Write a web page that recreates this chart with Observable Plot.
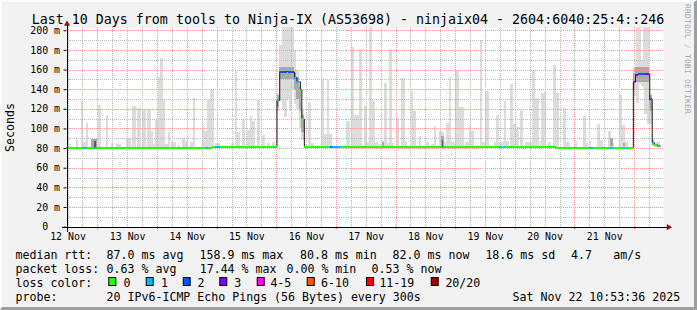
<!DOCTYPE html>
<html><head><meta charset="utf-8">
<script src="https://cdn.jsdelivr.net/npm/d3@7"></script>
<script src="https://cdn.jsdelivr.net/npm/@observablehq/plot@0.6"></script>
<style>
html,body{margin:0;padding:0;background:#fff;}
#chart{position:relative;width:697px;height:310px;background:#f2f2f2;box-sizing:border-box;overflow:hidden;
  border-top:2px solid #fcfcfc;border-left:2px solid #fcfcfc;border-right:3px solid #9e9e9e;border-bottom:3px solid #9e9e9e;}
#chart svg{position:absolute;left:-2px;top:-2px;}
</style></head><body><div id="chart"></div>
<script>
// ---------------- data (hours since 12 Nov 00:00) ----------------
const xStart = 11.6, xEnd = 251.6;
const dayLabels = ["12 Nov","13 Nov","14 Nov","15 Nov","16 Nov","17 Nov","18 Nov","19 Nov","20 Nov","21 Nov"];
const dayLabelHours = [12,36,60,84,108,132,156,180,204,228];
const dayBoundaryHours = [24,48,72,96,120,144,168,192,216,240];
const yTickValues = [0,20,40,60,80,100,120,140,160,180,200];
const yTickLabels = ["0\u00a0\u00a0","20 m","40 m","60 m","80 m","100 m","120 m","140 m","160 m","180 m","200 m"];
const yMinorValues = [10,30,50,70,90,110,130,150,170,190];

// light smoke (spread of the 20 pings): start, end, low, high (ms)
const smokeStart = [11.6,12.4,15.4,17.4,18.3,19.4,21.4,24.4,27.4,29.4,31.5,35.5,38.1,40.1,42.1,44.1,45.5,46.4,47.4,48.4,49.4,50.4,51.4,52.4,53.5,56.3,58.1,59.4,61.4,62.4,66.1,67.1,68.1,69.5,
  71.5,77.7,79.5,80.4,82.1,84.1,85.5,86.4,88.1,90.1,92.1,94.1,
  96.1,97.2,98.2,99.2,100.2,101.2,102.2,103.2,104.1,105.1,106.1,
  107.3,108.6,110,114.1,115.1,116.3,117.3,124.1,126.1,127.3,129.5,131.5,132.4,133.5,134.4,135.8,136.8,138.4,139.4,140.4,141.4,142.4,144.1,146.4,147.7,150.1,151.1,153.5,156.4,158.1,159.4,161.5,162.3,163.5,164.4,165.4,166.5,167.8,168.5,169.7,172.1,173.4,174.4,178.1,178.8,180.1,183.5,184.4,185.5,187.5,188.4,
  190.1,191.3,192.3,194.1,196,199.1,200.1,202.1,202.7,203.7,205.5,207.5,208.5,211.5,212.5,216.1,219.5,220.5,222.1,225.2,226.1,229.7,230.8,234.1,235.1,236.4,
  239.5,240.8,242.1,242.8,243.5,244.1,245.1,246.1,247.1,248.1];
const smokeEnd = [12.4,13.6,16.4,18.3,19.4,20.4,23.7,25.4,28.4,30.4,33.5,37.5,39.5,41.5,43.5,45.5,46.4,47.4,48.4,49.4,50.4,51.4,52.4,53.4,55.5,57.3,59.4,60.4,62.4,63.4,67.1,68.1,69.5,71.0,
  73.5,78.8,80.4,81.5,83.5,85.5,86.4,87.5,89.5,91.5,93.5,95.5,
  97.2,98.2,99.2,100.2,101.2,102.2,103.2,104.1,105.1,106.1,107.1,
  108.5,109.8,111,115.1,116.3,117.3,118.5,125.5,127.3,129.5,130.5,132.4,133.5,134.4,135.8,136.8,138.1,139.4,140.4,141.4,142.4,143.5,145.5,147.7,148.8,151.1,152.4,154.4,157.5,159.4,160.4,162.3,163.5,164.4,165.4,166.5,167.8,168.5,169.7,171.5,173.4,174.4,175.5,178.8,180.1,181.5,184.4,185.5,187.5,188.4,189.5,
  191.3,192.3,193.8,195.5,199.1,200.1,201.7,202.7,203.7,204.5,206.5,208.5,209.7,212.5,214.1,217.1,220.5,221.5,222.8,226.1,227.4,230.8,232.1,235.1,236.4,237.5,
  240.8,242.1,242.8,243.5,244.1,245.1,246.1,247.1,248.1,250.4];
const smokeLo = [80.5,80.5,80.5,80.5,80.5,80.5,80.5,80.5,80.5,80.5,80.5,80.5,80.5,80.5,80.5,80.5,80.5,80.5,80.5,80.5,80.5,80.5,80.5,80.5,80.5,80.5,80.5,80.5,80.5,80.5,80.5,80.5,80.5,80.5,
  81.5,81.5,81.5,81.5,81.5,81.5,81.5,81.5,81.5,81.5,81.5,81.5,
  118,128,120,112,130,118,140,125,120,100,88,
  81.5,81.5,81.5,81.5,81.5,81.5,81.5,81.5,81.5,81.5,81.5,81.5,81.5,81.5,81.5,81.5,81.5,81.5,81.5,81.5,81.5,81.5,81.5,81.5,81.5,81.5,81.5,81.5,81.5,81.5,81.5,81.5,81.5,81.5,81.5,81.5,81.5,81.5,81.5,81.5,81.5,81.5,81.5,81.5,81.5,81.5,81.5,81.5,81.5,81.5,81.5,
  81.5,81.5,81.5,81.5,81.5,81.5,81.5,81.5,81.5,81.5,81.5,80.5,80.5,80.5,80.5,80.5,80.5,80.5,80.5,80.5,80.5,80.5,80.5,80.5,80.5,80.5,
  133,126,145,143,140,115,105,105,82,81];
const smokeHi = [108,84,89,128,86,106,89,124,114,85,84,90,123,121,120,120,97,84,109,152,172,129,84,96,86,83,90,87,86,131,103,97,129,140,
  85,85,158,96,110,98,113,108,129,93,85,86,
  136,185,205,205,205,205,205,180,160,145,120,
  84,127,85,150,94,149,94,108,183,114,181,123,86,205,128,86,84,87,146,85,181,85,111,151,87,138,118,92,86,84,102,97,96,86,106,152,86,160,158,122,86,103,97,190,86,138,86,114,86,128,87,
  145,105,101,119,86,160,131,87,136,137,86,165,136,121,86,87,113,85,87,105,88,97,86,134,104,86,
  162,205,205,170,205,205,205,135,90,86];

// denser smoke close to the median: start, end, low, high, shade (1 = mid, 2 = dark)
const coreStart = [21.5,22.5,96.1,97.2,103.2,104.1,105.1,106.1,138.4,162.3,162.6,230.3,235.5,239.5,240.5,246.1,247.1];
const coreEnd   = [23.7,23.5,97.2,103.2,104.1,105.1,106.1,107.1,139.4,163.5,163.3,231.5,236.3,240.5,246.1,247.1,248.1];
const coreLo    = [81,81,122,150,140,130,118,96,81,81,81,82,82,140,147,118,83];
const coreHi    = [89,87,134,163,156,152,142,114,86,92,88,90,85,156,163,134,88];
const coreShade = [1,2,1,1,1,1,1,1,1,1,2,1,1,1,1,1,1];

// median rtt segments: start, end, value (ms), packet loss class
const medStart = [11.6,18.1,19.5,22.1,23.5,67.6,68.4,70.1,71.5,73.5,96.1,97.2,100.1,100.8,103.2,104.1,105.5,106.1,107.1,117.7,118.5,122.1,162.5,163.5,185.5,186.4,187.5,188.2,208.1,222.4,223.5,230.5,231.5,235.5,236.3,239.5,240.4,241.5,244.5,246.1,247.1,247.9,249.2];
const medEnd   = [18.1,19.5,22.1,23.5,67.6,68.4,70.1,71.5,73.5,96.1,97.2,100.1,100.8,103.2,104.1,105.5,106.1,107.1,117.7,118.5,122.1,162.5,163.5,185.5,186.4,187.5,188.2,208.1,222.4,223.5,230.5,231.5,235.5,236.3,239.5,240.4,241.5,244.5,246.1,247.1,247.9,249.2,250.4];
const medValue = [81,81,81,81,81,81,81,82,82,82,129,158,158.5,158,152,148,140,110,82,82,82,82,82,82,82,82,82,82,81,81,81,81,81,81,81,148,155,155.5,156,130,86,84,82.5];
const medLoss  = [0,1,0,1,0,1,0,0,1,0,1,2,3,2,1,1,0,0,0,2,1,0,1,0,1,0,1,0,0,1,0,1,0,1,0,3,3,2,3,2,1,0,1];

// legend
const lossLabels = ["0","1","2","3","4-5","6-10","11-19","20/20"];
const lossColors = ["#26ff00","#00b8ff","#0059ff","#7e00ff","#ff00ff","#ff5500","#ff0000","#a10000"];
const titleText = "Last 10 Days from tools to Ninja-IX (AS53698) - ninjaix04 - 2604:6040:25:4::246";
const rttStats = ["median rtt:","87.0 ms avg","158.9 ms max","80.8 ms min","82.0 ms now","18.6 ms sd","4.7","am/s"];
const lossStats = ["packet loss:","0.63 % avg","17.44 % max","0.00 % min","0.53 % now"];
const probeText = ["probe:","20 IPv6-ICMP Echo Pings (56 Bytes) every 300s","Sat Nov 22 10:53:36 2025"];

// ---------------- chart ----------------
const FONT = "'DejaVu Sans Mono', monospace";
const quarterDay = d3.range(12, xEnd, 6).filter(h => h % 24 !== 0 && h > xStart);
const yLabelOf = new Map(yTickValues.map((v, i) => [v, yTickLabels[i]]));
const xLabelOf = new Map(dayLabelHours.map((h, i) => [h, dayLabels[i]]));
const medPts = [];
medStart.forEach((s, i) => { medPts.push({t: s, v: medValue[i]}, {t: medEnd[i], v: medValue[i]}); });
const shadeColor = ["#dcdcdc", "#a8a8a8", "#5a5a5a"];

const plot = Plot.plot({
  width: 697, height: 245,
  marginLeft: 67, marginRight: 29.3, marginTop: 27.5, marginBottom: 16.7,
  x: {domain: [xStart, xEnd], axis: null},
  y: {domain: [0, 203], axis: null},
  color: {type: "identity"},
  style: {background: "transparent", fontFamily: FONT, fontSize: "10px", color: "#000", overflow: "visible"},
  marks: [
    Plot.frame({fill: "#ffffff", stroke: "none"}),
    Plot.rect(smokeStart, {x1: smokeStart, x2: smokeEnd, y1: smokeLo, y2: smokeHi, fill: shadeColor[0], clip: true, shapeRendering: "crispEdges"}),
    Plot.rect(coreStart, {x1: coreStart, x2: coreEnd, y1: coreLo, y2: coreHi, fill: coreShade.map(s => shadeColor[s]), clip: true, shapeRendering: "crispEdges"}),
    Plot.ruleY(yMinorValues, {stroke: "#b8b8b8", strokeDasharray: "1,1", shapeRendering: "crispEdges"}),
    Plot.ruleX(quarterDay, {y1: 0, y2: 203, stroke: "#b8b8b8", strokeDasharray: "1,1", shapeRendering: "crispEdges"}),
    Plot.ruleY(yTickValues.filter(v => v > 0), {stroke: "#f29a9a", strokeDasharray: "1,1", shapeRendering: "crispEdges"}),
    Plot.ruleX(dayBoundaryHours, {y1: 0, y2: 203, stroke: "#f29a9a", strokeDasharray: "1,1", shapeRendering: "crispEdges"}),
    Plot.line(medPts, {x: "t", y: "v", stroke: "#1c1010", strokeWidth: 1}),
    Plot.ruleY(medStart, {x1: medStart, x2: medEnd, y: medValue, stroke: medLoss.map(l => lossColors[l]), strokeWidth: 2, shapeRendering: "crispEdges"}),
    // axes
    Plot.ruleX(quarterDay, {y1: 0, y2: -1.5, stroke: "#aaaaaa"}),
    Plot.ruleX(dayBoundaryHours, {y1: 0, y2: -2.5, stroke: "#e05050"}),
    Plot.ruleY([0], {x1: xStart - 2, x2: xEnd + 1.6, stroke: "#000", shapeRendering: "crispEdges"}),
    Plot.ruleX([xStart], {y1: -5, y2: 207, stroke: "#000", shapeRendering: "crispEdges"}),
    Plot.dot([xStart], {x: d => d, y: 206.8, symbol: "triangle", r: 2.3, fill: "#8b1010", stroke: "none"}),
    Plot.dot([xEnd], {x: d => d + 2.1, y: 0, symbol: "triangle", r: 2.3, rotate: 90, fill: "#8b1010", stroke: "none"}),
    Plot.axisY(yTickValues, {label: null, tickSize: 3, tickPadding: 4, tickFormat: v => yLabelOf.get(v), fontSize: 10, fontFamily: FONT, stroke: "#000"}),
    Plot.axisX(dayLabelHours, {label: null, tickSize: 0, tickPadding: 5.4, tickFormat: h => xLabelOf.get(h), fontSize: 10, fontFamily: FONT})
  ]
});
const chart = document.getElementById("chart");
chart.appendChild(plot);

// ---------------- title, unit label and legend ----------------
const ov = d3.select(chart).append("svg").attr("width", 697).attr("height", 310)
  .style("font-family", FONT);
ov.append("text").attr("x", 348).attr("y", 23.6).attr("text-anchor", "middle")
  .attr("font-size", "13.3px").text(titleText);
ov.append("text").attr("transform", "translate(14.3,127.5) rotate(-90)").attr("text-anchor", "middle")
  .attr("font-size", "11.6px").text("Seconds");
ov.append("text").attr("transform", "translate(685,4) rotate(90)")
  .attr("font-size", "7.8px").attr("letter-spacing", "0.3px").attr("fill", "#a8a8a8").text("RRDTOOL / TOBI OETIKER");

const lg = ov.append("g").attr("font-size", "11.6px");
const put = (x, y, s) => lg.append("text").attr("x", x).attr("y", y).attr("xml:space", "preserve").text(s);
const rttX = [15.5, 106.6, 199.5, 300, 392.6, 485.4, 571, 613.3];
rttStats.forEach((s, i) => put(rttX[i], 258.5, s));
const lossX = [15.5, 106.6, 199.7, 286.5, 371.6];
lossStats.forEach((s, i) => put(lossX[i], 272.5, s));
put(15.5, 286.5, "loss color:");
const boxX = [108.3, 145.7, 182.7, 219.3, 256.7, 306.7, 366, 430.7];
const boxTextX = [123.4, 161, 197.6, 234.3, 270.4, 321, 379.4, 445.4];
lossLabels.forEach((s, i) => {
  lg.append("rect").attr("x", boxX[i] + 0.5).attr("y", 277.5).attr("width", 7).attr("height", 8)
    .attr("fill", lossColors[i]).attr("stroke", "#000").attr("stroke-width", 1);
  put(boxTextX[i], 286.5, s);
});
put(15.5, 300.5, probeText[0]);
put(106.6, 300.5, probeText[1]);
put(512.6, 300.5, probeText[2]);
</script></body></html>
